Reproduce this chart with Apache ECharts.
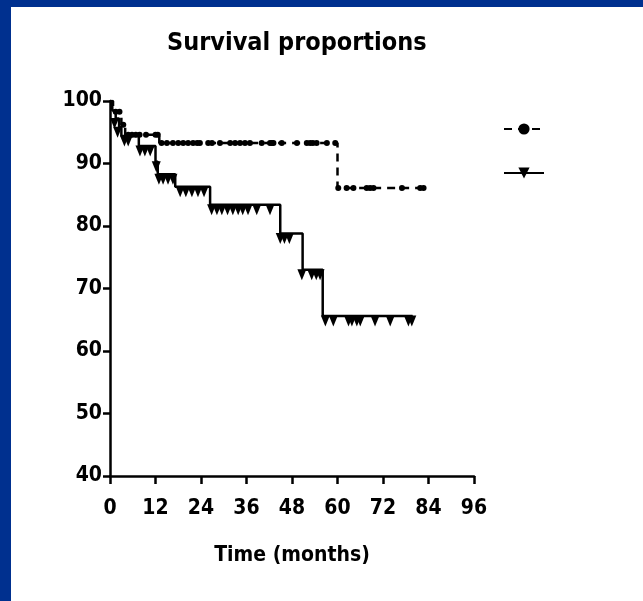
<!DOCTYPE html>
<html>
<head>
<meta charset="utf-8">
<script src="https://cdn.jsdelivr.net/npm/echarts@6/dist/echarts.min.js"></script>
<style>
  html, body { margin: 0; padding: 0; background: #fff; }
  #chart { width: 643px; height: 601px; }
</style>
</head>
<body>
<div id="chart"></div>
<script>
  // step curve points: [months, % surviving]
  const groupA = [[0, 100], [0.8, 98.3], [3, 96.2], [4, 94.6], [13, 93.3], [60, 86.1], [82.7, 86.1]];
  const groupB = [[0, 100], [0.6, 98.5], [1.5, 97.2], [2.4, 95.8], [3, 94.4], [7.6, 92.8], [12, 90.3], [12.6, 88.3],
    [17.2, 86.3], [26.4, 83.4], [44.9, 78.8], [50.8, 73], [56.1, 65.6], [79.8, 65.6]];

  // censored marks
  const censorA = [[1.5, 98.3], [2.5, 98.3], [3.5, 96.2], [4.8, 94.6], [5.8, 94.6], [6.8, 94.6], [7.8, 94.6], [9.5, 94.6],
    [12, 94.6], [12.6, 94.6],
    [13.6, 93.3], [15, 93.3], [16.6, 93.3], [18, 93.3], [19.3, 93.3], [20.6, 93.3], [21.9, 93.3], [23, 93.3], [23.7, 93.3],
    [25.9, 93.3], [26.9, 93.3], [29, 93.3], [31.7, 93.3], [33, 93.3], [34.3, 93.3], [35.6, 93.3], [36.9, 93.3],
    [40, 93.3], [42.2, 93.3], [42.7, 93.3], [43.1, 93.3], [45.3, 93.3], [49.3, 93.3], [51.9, 93.3], [52.8, 93.3],
    [53.5, 93.3], [54.5, 93.3], [57.2, 93.3], [59.4, 93.3],
    [60.2, 86.1], [62.4, 86.1], [64.2, 86.1], [67.7, 86.1], [68.6, 86.1], [69.5, 86.1], [77, 86.1], [81.8, 86.1], [82.7, 86.1]];
  const censorB = [[1.2, 97.2], [2, 95.8], [3.8, 94.4], [4.8, 94.4], [7.9, 92.8], [9.2, 92.8], [10.6, 92.8], [12.2, 90.3],
    [12.9, 88.3], [14, 88.3], [15.3, 88.3], [16.6, 88.3],
    [18.5, 86.3], [20, 86.3], [21.6, 86.3], [23.2, 86.3], [24.8, 86.3],
    [26.8, 83.4], [28.2, 83.4], [29.5, 83.4], [31, 83.4], [32.4, 83.4], [33.8, 83.4], [35, 83.4], [36.4, 83.4],
    [38.7, 83.4], [42.2, 83.4],
    [44.9, 78.8], [46, 78.8], [47.3, 78.8],
    [50.6, 73], [53.2, 73], [54.4, 73], [55.4, 73],
    [56.8, 65.6], [58.9, 65.6], [62.9, 65.6], [63.8, 65.6], [65.1, 65.6], [66, 65.6], [69.9, 65.6], [73.9, 65.6],
    [78.7, 65.6], [79.6, 65.6]];

  const xTicks = [0, 12, 24, 36, 48, 60, 72, 84, 96];
  const seriesNames = ['Group A', 'Group B'];

  const font = '"DejaVu Sans Condensed", "Liberation Sans Narrow", "Liberation Sans", sans-serif';
  const downTri = 'path://M0,0 L10,0 L5,12 Z';

  const option = {
    animation: false,
    backgroundColor: '#fff',
    graphic: [
      { type: 'rect', left: 0, top: 0, shape: { width: 643, height: 7 }, style: { fill: '#00308f' } },
      { type: 'rect', left: 0, top: 0, shape: { width: 11, height: 601 }, style: { fill: '#00308f' } }
    ],
    title: {
      text: 'Survival proportions',
      left: 162,
      top: 26,
      textStyle: { fontFamily: font, fontSize: 25, fontWeight: 'bold', color: '#000' }
    },
    legend: {
      data: seriesNames,
      orient: 'vertical',
      left: 498,
      top: 117,
      itemWidth: 40,
      itemHeight: 14,
      itemGap: 30,
      textStyle: { color: '#fff', fontSize: 14 }
    },
    grid: { left: 110, right: 169, top: 101, bottom: 125 },
    xAxis: {
      type: 'value',
      min: 0,
      max: 96,
      interval: 12,
      name: 'Time (months)',
      nameLocation: 'middle',
      nameGap: 69,
      nameTextStyle: { fontFamily: font, fontSize: 21, fontWeight: 'bold', color: '#000' },
      axisLine: { lineStyle: { color: '#000', width: 2.5 } },
      axisTick: { show: true, length: 8, lineStyle: { width: 2.5 } },
      axisLabel: {
        fontFamily: font, fontSize: 21, fontWeight: 'bold', color: '#000', margin: 22,
        formatter: v => xTicks.includes(v) ? String(v) : ''
      },
      splitLine: { show: false }
    },
    yAxis: {
      type: 'value',
      min: 40,
      max: 100,
      interval: 10,
      axisLine: { show: true, lineStyle: { color: '#000', width: 2.5 } },
      axisTick: { show: true, length: 7, lineStyle: { width: 2.5 } },
      axisLabel: { fontFamily: font, fontSize: 21, fontWeight: 'bold', color: '#000', margin: 8 },
      splitLine: { show: false }
    },
    series: [
      {
        name: seriesNames[0],
        type: 'line',
        step: 'end',
        data: groupA,
        symbol: 'circle',
        symbolSize: 6,
        showSymbol: false,
        color: '#000',
        lineStyle: { color: '#000', width: 2.5, type: [8, 6] }
      },
      {
        name: seriesNames[1],
        type: 'line',
        step: 'end',
        data: groupB,
        symbol: downTri,
        symbolSize: [10, 12],
        showSymbol: false,
        color: '#000',
        lineStyle: { color: '#000', width: 2.5 }
      },
      {
        type: 'scatter',
        data: censorA,
        symbol: 'circle',
        symbolSize: 6,
        itemStyle: { color: '#000', opacity: 1 }
      },
      {
        type: 'scatter',
        data: censorB,
        symbol: downTri,
        symbolSize: [9, 11],
        symbolOffset: [0, 5],
        itemStyle: { color: '#000', opacity: 1 }
      }
    ]
  };

  const myChart = echarts.init(document.getElementById('chart'));
  myChart.setOption(option);
</script>
</body>
</html>
